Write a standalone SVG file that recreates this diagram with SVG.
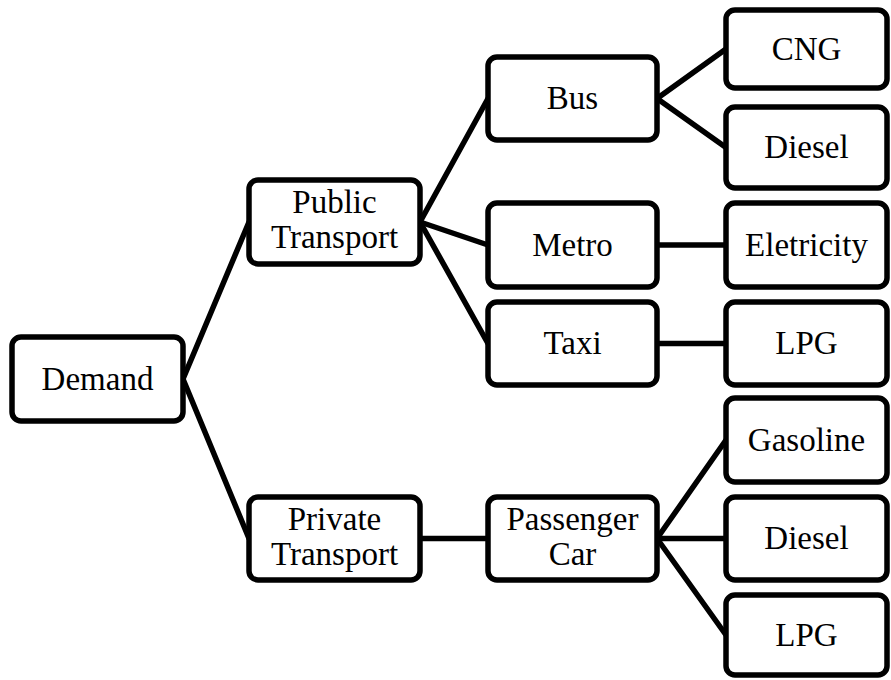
<svg xmlns="http://www.w3.org/2000/svg" width="891" height="680" viewBox="0 0 891 680" font-family="Liberation Serif, DejaVu Serif, serif">
<style>
.b{fill:#fff;stroke:#000;stroke-width:5.5;}
.t{font-size:33px;fill:#000;text-anchor:middle;}
.c{stroke:#000;stroke-width:5.5;fill:none;stroke-linecap:round;}
</style>
<rect width="891" height="680" fill="#fff"/>
<g id="connectors">
<line class="c" x1="183" y1="379" x2="249" y2="222"/>
<line class="c" x1="183" y1="379" x2="249" y2="538.5"/>
<line class="c" x1="420" y1="222" x2="488" y2="98.5"/>
<line class="c" x1="420" y1="222" x2="488" y2="245"/>
<line class="c" x1="420" y1="222" x2="488" y2="343.5"/>
<line class="c" x1="420" y1="538.5" x2="488" y2="538.5"/>
<line class="c" x1="657" y1="98.5" x2="726" y2="49"/>
<line class="c" x1="657" y1="98.5" x2="726" y2="147.5"/>
<line class="c" x1="657" y1="245" x2="726" y2="245"/>
<line class="c" x1="657" y1="343.5" x2="726" y2="343.5"/>
<line class="c" x1="657" y1="538.5" x2="726" y2="440"/>
<line class="c" x1="657" y1="538.5" x2="726" y2="538.5"/>
<line class="c" x1="657" y1="538.5" x2="726" y2="635"/>
</g>
<g id="demand"><rect class="b" x="12" y="337" width="171" height="84" rx="9"/><text class="t" font-family="Liberation Serif, serif" x="97.5" y="390">Demand</text></g>
<g id="public"><rect class="b" x="249" y="180" width="171" height="84" rx="9"/><text class="t" font-family="Liberation Serif, serif" x="334.5" y="213">Public</text><text class="t" font-family="Liberation Serif, serif" x="334.5" y="248">Transport</text></g>
<g id="private"><rect class="b" x="249" y="497" width="171" height="83" rx="9"/><text class="t" font-family="Liberation Serif, serif" x="334.5" y="530">Private</text><text class="t" font-family="Liberation Serif, serif" x="334.5" y="565">Transport</text></g>
<g id="bus"><rect class="b" x="488" y="57" width="169" height="83" rx="9"/><text class="t" font-family="Liberation Serif, serif" x="572.5" y="109">Bus</text></g>
<g id="metro"><rect class="b" x="488" y="203" width="169" height="84" rx="9"/><text class="t" font-family="Liberation Serif, serif" x="572.5" y="256">Metro</text></g>
<g id="taxi"><rect class="b" x="488" y="302" width="169" height="83" rx="9"/><text class="t" font-family="Liberation Serif, serif" x="572.5" y="354">Taxi</text></g>
<g id="passenger"><rect class="b" x="488" y="497" width="169" height="83" rx="9"/><text class="t" font-family="Liberation Serif, serif" x="572.5" y="530">Passenger</text><text class="t" font-family="Liberation Serif, serif" x="572.5" y="565">Car</text></g>
<g id="cng"><rect class="b" x="726" y="10" width="161" height="78" rx="9"/><text class="t" font-family="Liberation Serif, serif" x="806.5" y="60">CNG</text></g>
<g id="diesel1"><rect class="b" x="726" y="107" width="161" height="81" rx="9"/><text class="t" font-family="Liberation Serif, serif" x="806.5" y="158">Diesel</text></g>
<g id="electricity"><rect class="b" x="726" y="203" width="161" height="84" rx="9"/><text class="t" font-family="Liberation Serif, serif" x="806.5" y="256">Eletricity</text></g>
<g id="lpg1"><rect class="b" x="726" y="302" width="161" height="83" rx="9"/><text class="t" font-family="Liberation Serif, serif" x="806.5" y="354">LPG</text></g>
<g id="gasoline"><rect class="b" x="726" y="398" width="161" height="84" rx="9"/><text class="t" font-family="Liberation Serif, serif" x="806.5" y="451">Gasoline</text></g>
<g id="diesel2"><rect class="b" x="726" y="497" width="161" height="83" rx="9"/><text class="t" font-family="Liberation Serif, serif" x="806.5" y="549">Diesel</text></g>
<g id="lpg2"><rect class="b" x="726" y="595" width="161" height="80" rx="9"/><text class="t" font-family="Liberation Serif, serif" x="806.5" y="646">LPG</text></g>
</svg>
